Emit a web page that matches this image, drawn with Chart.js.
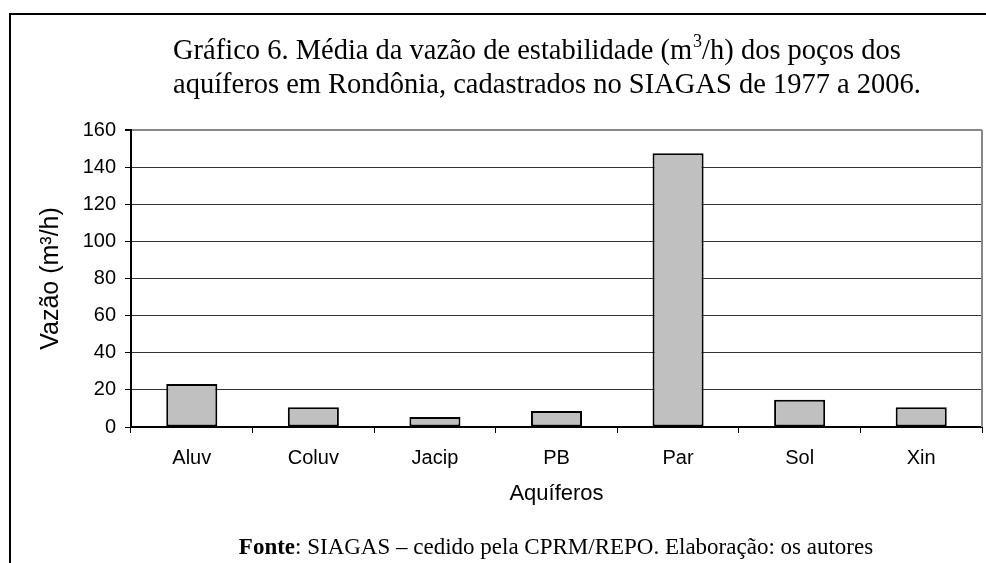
<!DOCTYPE html>
<html>
<head>
<meta charset="utf-8">
<script src="https://cdn.jsdelivr.net/npm/chart.js@4/dist/chart.umd.min.js"></script>
<style>
html,body{margin:0;padding:0;background:#fff;}
canvas{display:block;}
</style>
</head>
<body>
<canvas id="c" width="986" height="563"></canvas>
<script>
const categories = ["Aluv", "Coluv", "Jacip", "PB", "Par", "Sol", "Xin"];
const vazaoMedia = [23.1, 10.6, 5.4, 8.6, 147.5, 14.7, 10.6];
const yTicks = [0, 20, 40, 60, 80, 100, 120, 140, 160];
const titleLine1 = ["Gráfico 6. Média da vazão de estabilidade (m", "3", "/h) dos poços dos"];
const titleLine2 = "aquíferos em Rondônia, cadastrados no SIAGAS de 1977 a 2006.";
const yTitle = "Vazão (m³/h)";
const xTitle = "Aquíferos";
const footerBold = "Fonte";
const footerRest = ": SIAGAS – cedido pela CPRM/REPO. Elaboração: os autores";

const SERIF = '"Liberation Serif", "Times New Roman", serif';
const SANS = 'Arial, "Liberation Sans", sans-serif';

const decor = {
  id: 'decor',
  beforeDraw(chart) {
    const ctx = chart.ctx;
    ctx.save();
    ctx.fillStyle = '#fff';
    ctx.fillRect(0, 0, chart.width, chart.height);
    ctx.strokeStyle = '#000';
    ctx.lineWidth = 2;
    ctx.beginPath();
    ctx.moveTo(10, chart.height + 2);
    ctx.lineTo(10, 14);
    ctx.lineTo(chart.width + 2, 14);
    ctx.stroke();
    ctx.restore();
  },
  afterDraw(chart) {
    const ctx = chart.ctx;
    const a = chart.chartArea;
    ctx.save();
    // right border of plot area
    ctx.strokeStyle = '#888';
    ctx.lineWidth = 2;
    ctx.beginPath();
    ctx.moveTo(a.right, a.top);
    ctx.lineTo(a.right, a.bottom);
    ctx.stroke();
    // title
    ctx.fillStyle = '#000';
    ctx.textBaseline = 'alphabetic';
    ctx.textAlign = 'left';
    const tf = '28.5px ' + SERIF;
    const sf = '18px ' + SERIF;
    let x = 173;
    ctx.font = tf;
    ctx.fillText(titleLine1[0], x, 59);
    x += ctx.measureText(titleLine1[0]).width;
    ctx.font = sf;
    ctx.fillText(titleLine1[1], x + 1, 47);
    x += ctx.measureText(titleLine1[1]).width + 1;
    ctx.font = tf;
    ctx.fillText(titleLine1[2], x, 59);
    ctx.fillText(titleLine2, 173, 93);
    // footer
    const fb = 'bold 23px ' + SERIF;
    const fn = '23px ' + SERIF;
    ctx.font = fb;
    const w1 = ctx.measureText(footerBold).width;
    ctx.font = fn;
    const w2 = ctx.measureText(footerRest).width;
    const cx = 556;
    const x0 = cx - (w1 + w2) / 2;
    ctx.font = fb;
    ctx.fillText(footerBold, x0, 554);
    ctx.font = fn;
    ctx.fillText(footerRest, x0 + w1, 554);
    ctx.restore();
  }
};

new Chart(document.getElementById('c'), {
  type: 'bar',
  data: {
    labels: categories,
    datasets: [{
      data: vazaoMedia,
      backgroundColor: '#c0c0c0',
      borderColor: '#000',
      borderWidth: 2,
      borderSkipped: false,
      barPercentage: 0.42,
      categoryPercentage: 1
    }]
  },
  options: {
    responsive: false,
    animation: false,
    devicePixelRatio: 1,
    layout: { padding: { left: 36, right: 4, top: 130, bottom: 56 } },
    plugins: {
      legend: { display: false },
      tooltip: { enabled: false },
      title: { display: false }
    },
    scales: {
      x: {
        offset: true,
        grid: { offset: true, drawOnChartArea: false, tickLength: 6, color: '#000', lineWidth: 1 },
        border: { display: true, color: '#000', width: 2 },
        ticks: { color: '#000', padding: 13, font: { family: SANS, size: 20 } },
        title: { display: true, text: xTitle, color: '#000', padding: 0, font: { family: SANS, size: 22 } },
        afterFit(scale) { scale.height = 80; }
      },
      y: {
        min: 0, max: 160,
        afterBuildTicks(scale) { scale.ticks = yTicks.map(v => ({ value: v })); },
        grid: {
          drawOnChartArea: true,
          tickLength: 6,
          color: (c) => (c.tick && c.tick.value === 160) ? '#888' : '#333',
          lineWidth: (c) => (c.tick && c.tick.value === 160) ? 2 : 1,
          tickColor: '#000'
        },
        border: { display: true, color: '#000', width: 2 },
        ticks: { color: '#000', padding: 9, font: { family: SANS, size: 20 } },
        title: { display: true, text: yTitle, color: '#000', padding: 0, font: { family: SANS, size: 25 } },
        afterFit(scale) { scale.width = 95; }
      }
    }
  },
  plugins: [decor]
});
</script>
</body>
</html>
